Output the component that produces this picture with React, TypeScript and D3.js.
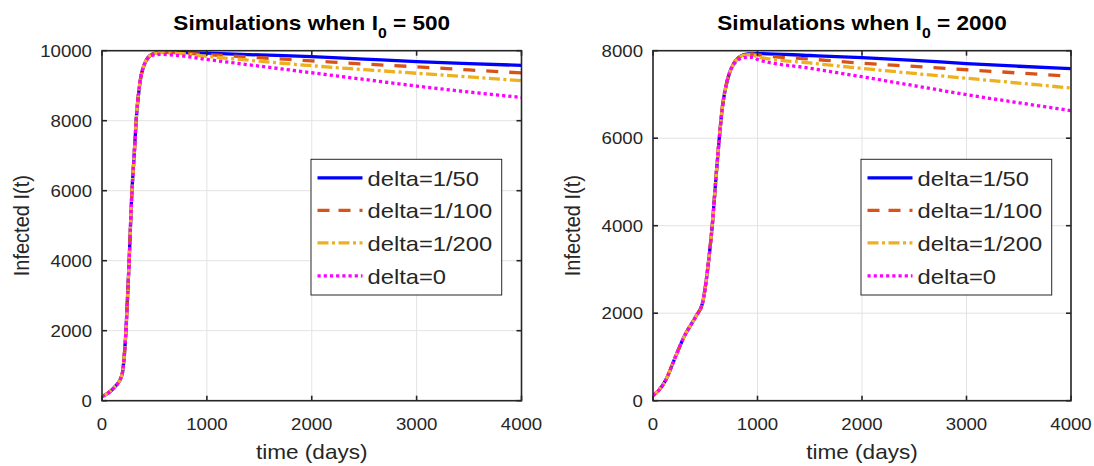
import React from 'react';
import * as d3 from 'd3';

// ---------- data ----------
const xTicks = [0, 1000, 2000, 3000, 4000];
const yTicksA = [0, 2000, 4000, 6000, 8000, 10000];
const yTicksB = [0, 2000, 4000, 6000, 8000];
const seriesNames = ['delta=1/50', 'delta=1/100', 'delta=1/200', 'delta=0'];
const seriesColors = ['#0000ff', '#d95319', '#edb120', '#ff00ff'];
const seriesDash = ['', '12,11', '11,3.5,3,3.5', '3.2,3'];

// I0 = 500 : common early phase
const riseTimeA = [0, 40, 80, 120, 155, 180, 195, 212, 229, 258, 283, 306, 331, 363, 410];
const riseValA = [120, 180, 270, 390, 510, 650, 800, 1270, 2030, 3930, 5840, 6980, 8220, 9110, 9650];
// I0 = 500 : diverging tails
const tailTimeA = [474, 554, 700, 1000, 1500, 2000, 2500, 3000, 3500, 4000];
const blueA = [9890, 9955, 9955, 9930, 9880, 9830, 9760, 9690, 9630, 9580];
const redA = [9890, 9950, 9945, 9890, 9800, 9710, 9620, 9540, 9450, 9365];
const yellowA = [9885, 9945, 9930, 9840, 9700, 9570, 9460, 9355, 9250, 9145];
const magentaA = [9860, 9895, 9870, 9750, 9560, 9370, 9180, 8990, 8820, 8665];

// I0 = 2000 : common early phase
const riseTimeB = [0, 60, 124, 204, 299, 411, 474, 506, 537, 569, 601, 633, 665, 713];
const riseValB = [120, 250, 480, 940, 1470, 1930, 2230, 2690, 3300, 4060, 5050, 5970, 6730, 7340];
// I0 = 2000 : diverging tails
const tailTimeB = [776, 872, 950, 1000, 1500, 2000, 2500, 3000, 3500, 4000];
const blueB = [7720, 7910, 7935, 7935, 7890, 7840, 7780, 7705, 7645, 7590];
const redB = [7720, 7905, 7925, 7905, 7810, 7715, 7640, 7565, 7490, 7415];
const yellowB = [7715, 7900, 7910, 7860, 7720, 7595, 7480, 7370, 7260, 7147];
const magentaB = [7700, 7840, 7850, 7800, 7600, 7405, 7200, 6995, 6810, 6630];

// ---------- helpers ----------
const SX = 1.13; // horizontal stretch of text in the reference
const FONT = '"Liberation Sans", Arial, Helvetica, sans-serif';
const AX = '#262626';

type Pt = [number, number];

function buildSeries(rt: number[], rv: number[], tt: number[], tv: number[]): Pt[] {
  const pts: Pt[] = rt.map((t, i) => [t, rv[i]] as Pt);
  tt.forEach((t, i) => pts.push([t, tv[i]]));
  return pts;
}

function T(props: { x: number; y: number; rotate?: number; anchor?: string; size: number; weight?: string; children: React.ReactNode }) {
  const { x, y, rotate, anchor, size, weight, children } = props;
  return (
    <text
      transform={`translate(${x},${y}) scale(${SX},1)${rotate ? ` rotate(${rotate})` : ''}`}
      textAnchor={anchor || 'start'}
      fontFamily={FONT}
      fontSize={size}
      fontWeight={weight || 'normal'}
      fill={weight === 'bold' ? '#000' : AX}
    >
      {children}
    </text>
  );
}

function Panel(props: {
  id: string;
  left: number; right: number; top: number; bottom: number;
  yMax: number; yTicks: number[]; i0: string;
  series: Pt[][];
  legend: { x0: number; x1: number; y0: number; y1: number };
}) {
  const { id, left, right, top, bottom, yMax, yTicks, i0, series, legend } = props;
  const xs = d3.scaleLinear().domain([0, 4000]).range([left, right]);
  const ys = d3.scaleLinear().domain([0, yMax]).range([bottom, top]);
  const line = d3.line<Pt>().x(d => xs(d[0])).y(d => ys(d[1])).curve(d3.curveMonotoneX);
  const cx = (left + right) / 2;
  const cy = (top + bottom) / 2;
  const rowY = [legend.y0 + 18.5, legend.y0 + 51, legend.y0 + 83.5, legend.y0 + 116.5];
  return (
    <g>
      <defs>
        <clipPath id={id}>
          <rect x={left} y={top - 2} width={right - left} height={bottom - top + 2} />
        </clipPath>
      </defs>
      {/* grid */}
      {xTicks.map(t => (
        <line key={'gx' + t} x1={xs(t)} x2={xs(t)} y1={top} y2={bottom} stroke="#e3e3e3" strokeWidth={1} />
      ))}
      {yTicks.map(t => (
        <line key={'gy' + t} x1={left} x2={right} y1={ys(t)} y2={ys(t)} stroke="#e3e3e3" strokeWidth={1} />
      ))}
      {/* series */}
      <g clipPath={`url(#${id})`}>
        {series.map((pts, i) => (
          <path key={i} d={line(pts) || ''} fill="none" stroke={seriesColors[i]} strokeWidth={3.3}
            strokeDasharray={seriesDash[i] || undefined} strokeLinejoin="round" />
        ))}
      </g>
      {/* box */}
      <rect x={left} y={top} width={right - left} height={bottom - top} fill="none" stroke={AX} strokeWidth={1.6} />
      {/* ticks */}
      {xTicks.map(t => (
        <g key={'tx' + t}>
          <line x1={xs(t)} x2={xs(t)} y1={bottom} y2={bottom - 5} stroke={AX} strokeWidth={1.6} />
          <line x1={xs(t)} x2={xs(t)} y1={top} y2={top + 5} stroke={AX} strokeWidth={1.6} />
          <T x={xs(t)} y={bottom + 29.5} anchor="middle" size={16.5}>{t}</T>
        </g>
      ))}
      {yTicks.map(t => (
        <g key={'ty' + t}>
          <line x1={left} x2={left + 5} y1={ys(t)} y2={ys(t)} stroke={AX} strokeWidth={1.6} />
          <line x1={right} x2={right - 5} y1={ys(t)} y2={ys(t)} stroke={AX} strokeWidth={1.6} />
          <T x={left - 10} y={ys(t) + 6} anchor="end" size={16.5}>{t}</T>
        </g>
      ))}
      {/* labels */}
      <T x={cx} y={459} anchor="middle" size={20}>time (days)</T>
      <T x={left - 73} y={cy} anchor="middle" size={20} rotate={-90}>Infected I(t)</T>
      <text transform={`translate(${cx},30) scale(${SX},1)`} textAnchor="middle" fontFamily={FONT} fontSize={20} fontWeight="bold" fill="#000">
        Simulations when I<tspan fontSize={14} dy={8}>0</tspan><tspan dy={-8}> = {i0}</tspan>
      </text>
      {/* legend */}
      <rect x={legend.x0} y={legend.y0} width={legend.x1 - legend.x0} height={legend.y1 - legend.y0} fill="#fff" stroke={AX} strokeWidth={1} />
      {seriesNames.map((n, i) => (
        <g key={n}>
          <line x1={legend.x0 + 6.5} x2={legend.x0 + 51.5} y1={rowY[i]} y2={rowY[i]} stroke={seriesColors[i]} strokeWidth={3.3}
            strokeDasharray={i === 1 ? '12,9' : (seriesDash[i] || undefined)} />
          <T x={legend.x0 + 56.5} y={rowY[i] + 7.8} size={21}>{n}</T>
        </g>
      ))}
    </g>
  );
}

export default function App() {
  const seriesA = [blueA, redA, yellowA, magentaA].map(v => buildSeries(riseTimeA, riseValA, tailTimeA, v));
  const seriesB = [blueB, redB, yellowB, magentaB].map(v => buildSeries(riseTimeB, riseValB, tailTimeB, v));
  return (
    <svg width={1094} height={466} style={{ position: 'absolute', left: 0, top: 0, background: '#fff' }}>
      <rect x={0} y={0} width={1094} height={466} fill="#fff" />
      <Panel id="clipA" left={102} right={521.5} top={50.7} bottom={400.7} yMax={10000} yTicks={yTicksA}
        i0="500" series={seriesA} legend={{ x0: 311, x1: 501.7, y0: 159.3, y1: 295 }} />
      <Panel id="clipB" left={653} right={1071} top={50.7} bottom={400.7} yMax={8000} yTicks={yTicksB}
        i0="2000" series={seriesB} legend={{ x0: 861, x1: 1051.7, y0: 159.3, y1: 295 }} />
    </svg>
  );
}
